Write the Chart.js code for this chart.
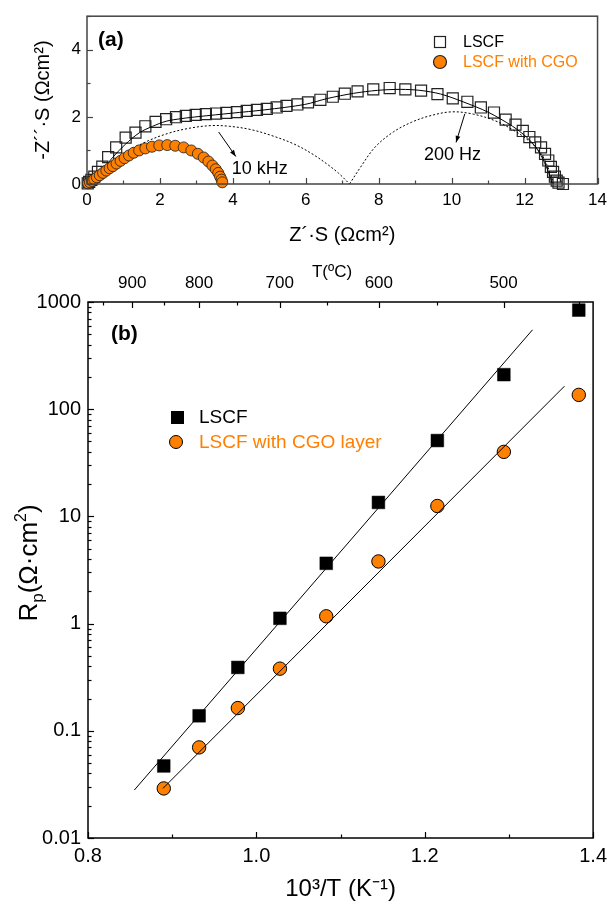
<!DOCTYPE html>
<html>
<head>
<meta charset="utf-8">
<script src="https://cdn.jsdelivr.net/npm/chart.js@4.4.0/dist/chart.umd.min.js"></script>
<style>
  html, body { margin: 0; padding: 0; background: #fff; }
  #wrap { position: relative; width: 613px; height: 908px; }
  canvas { position: absolute; left: 0; }
  #impedance { top: 0; }
  #arrhenius { top: 250px; }
</style>
</head>
<body>
<div id="wrap">
  <canvas id="impedance" width="613" height="250"></canvas>
  <canvas id="arrhenius" width="613" height="658"></canvas>
</div>
<script>
// ---- (a) impedance spectra, Ohm cm2 ----
const lscfRe = [0.02, 0.06, 0.12, 0.2, 0.3, 0.42, 0.58, 0.8, 1.06, 1.33, 1.6, 1.88, 2.17, 2.44, 2.71, 2.98, 3.26, 3.54, 3.82, 4.11, 4.38, 4.66, 4.93, 5.20, 5.47, 5.77, 6.06, 6.40, 6.74, 7.07, 7.42, 7.85, 8.30, 8.73, 9.16, 9.61, 10.03, 10.43, 10.80, 11.16, 11.48, 11.75, 11.95, 12.13, 12.29, 12.45, 12.56, 12.65, 12.72, 12.78, 12.83, 12.88, 12.93, 13.05];
const lscfIm = [0.02, 0.06, 0.12, 0.22, 0.36, 0.52, 0.80, 1.09, 1.38, 1.53, 1.72, 1.85, 1.93, 1.99, 2.03, 2.06, 2.08, 2.10, 2.12, 2.14, 2.18, 2.21, 2.24, 2.28, 2.33, 2.37, 2.43, 2.51, 2.60, 2.69, 2.76, 2.82, 2.86, 2.82, 2.78, 2.68, 2.55, 2.45, 2.28, 2.13, 1.92, 1.77, 1.58, 1.40, 1.24, 1.09, 0.90, 0.70, 0.51, 0.36, 0.22, 0.10, 0.04, 0.0];

const cgoRe = [0.03, 0.08, 0.14, 0.2, 0.27, 0.35, 0.44, 0.53, 0.62, 0.71, 0.81, 0.92, 1.03, 1.15, 1.28, 1.43, 1.6, 1.78, 1.98, 2.2, 2.42, 2.65, 2.86, 3.04, 3.2, 3.33, 3.44, 3.53, 3.6, 3.65, 3.69, 3.71];
const cgoIm = [0.02, 0.05, 0.09, 0.14, 0.2, 0.26, 0.33, 0.40, 0.47, 0.53, 0.61, 0.69, 0.77, 0.85, 0.93, 1.0, 1.06, 1.11, 1.15, 1.16, 1.14, 1.09, 1.0, 0.9, 0.79, 0.67, 0.55, 0.44, 0.33, 0.22, 0.13, 0.05];

// fitted LSCF spectrum and its two arcs (dotted)
const fitRe = [0, 0.2, 0.45, 0.71, 1.05, 1.44, 1.8, 2.17, 2.6, 3.07, 3.97, 4.88, 5.97, 6.6, 7.3, 7.96, 8.6, 9.13, 9.7, 10.31, 11.0, 11.67, 12.05, 12.31, 12.5, 12.67, 12.76];
const fitIm = [0, 0.15, 0.45, 0.80, 1.18, 1.53, 1.72, 1.87, 1.95, 2.01, 2.11, 2.21, 2.37, 2.55, 2.70, 2.79, 2.82, 2.79, 2.68, 2.45, 2.14, 1.72, 1.40, 1.09, 0.75, 0.31, 0];
const arcHfRe = [0.1, 0.4, 1.0, 1.6, 2.2, 2.8, 3.4, 3.9, 4.5, 5.1, 5.7, 6.2, 6.6, 6.9, 7.2];
const arcHfIm = [0, 0.45, 0.9, 1.25, 1.5, 1.66, 1.74, 1.72, 1.62, 1.43, 1.18, 0.88, 0.58, 0.32, 0];
const arcLfRe = [7.2, 7.5, 7.9, 8.4, 8.9, 9.4, 10.0, 10.6, 11.2, 11.7, 12.1, 12.4, 12.6, 12.8];
const arcLfIm = [0, 0.5, 1.1, 1.55, 1.84, 2.03, 2.15, 2.08, 1.88, 1.6, 1.3, 0.98, 0.6, 0];

const reTicks = [0, 2, 4, 6, 8, 10, 12, 14];
const reMinor = [1, 3, 5, 7, 9, 11, 13];
const imTicks = [0, 2, 4];
const imMinor = [1, 3, 5];

// ---- (b) Arrhenius plot ----
const invT = [0.890, 0.932, 0.978, 1.028, 1.083, 1.145, 1.215, 1.294, 1.383];
const rpLSCF = [0.047, 0.138, 0.39, 1.12, 3.65, 13.5, 51, 210, 840];
const rpCGO = [0.029, 0.070, 0.163, 0.38, 1.17, 3.8, 12.5, 40, 136];
const fitLSCFx = [0.855, 1.328];
const fitLSCFy = [0.028, 550];
const fitCGOx = [0.889, 1.366];
const fitCGOy = [0.029, 164];

const invTTicks = [0.8, 1.0, 1.2, 1.4];
const invTMinor = [0.9, 1.1, 1.3];
const rpTicks = [0.01, 0.1, 1, 10, 100, 1000];
const topTemps = [900, 800, 700, 600, 500];
const topTempsMinor = [950, 850, 750, 650, 550, 450];

const ORANGE = '#FF8000';
const toXY = (xs, ys) => xs.map((x, i) => ({x: x, y: ys[i]}));
const toInvT = t => 1000 / (t + 273);

Chart.defaults.font.family = '"Liberation Sans", Arial, sans-serif';
Chart.defaults.color = '#000';

// frame round the plot area + inward tick marks
const framePlugin = {
  id: 'frame',
  afterDatasetsDraw(chart, args, opts) {
    const ctx = chart.ctx, a = chart.chartArea;
    ctx.save();
    ctx.strokeStyle = opts.color;
    ctx.lineWidth = opts.width;
    ctx.strokeRect(a.left, a.top, a.right - a.left, a.bottom - a.top);
    ctx.lineWidth = 1.2;
    opts.ticks.forEach(t => {
      const s = chart.scales[t.scale];
      [[t.major, 6], [t.minor, 3.5]].forEach(([vals, len]) => {
        vals.forEach(v => {
          const p = Math.round(s.getPixelForValue(v)) + 0.5;
          ctx.beginPath();
          if (t.side === 'bottom') { ctx.moveTo(p, a.bottom); ctx.lineTo(p, a.bottom - len); }
          else if (t.side === 'top') { ctx.moveTo(p, a.top); ctx.lineTo(p, a.top + len); }
          else { ctx.moveTo(a.left, p); ctx.lineTo(a.left + len, p); }
          ctx.stroke();
        });
      });
    });
    ctx.restore();
  }
};

function arrow(ctx, x1, y1, x2, y2) {
  ctx.beginPath();
  ctx.moveTo(x1, y1);
  ctx.lineTo(x2, y2);
  ctx.stroke();
  const ang = Math.atan2(y2 - y1, x2 - x1);
  ctx.beginPath();
  ctx.moveTo(x2, y2);
  ctx.lineTo(x2 - 7 * Math.cos(ang - 0.35), y2 - 7 * Math.sin(ang - 0.35));
  ctx.lineTo(x2 - 7 * Math.cos(ang + 0.35), y2 - 7 * Math.sin(ang + 0.35));
  ctx.closePath();
  ctx.fill();
}

const notesA = {
  id: 'notesA',
  afterDraw(chart) {
    const ctx = chart.ctx, x = chart.scales.x, y = chart.scales.y;
    ctx.save();
    ctx.fillStyle = '#000';
    ctx.strokeStyle = '#000';
    ctx.lineWidth = 1;
    ctx.textBaseline = 'middle';
    ctx.font = 'bold 21px "Liberation Sans", Arial, sans-serif';
    ctx.fillText('(a)', 98, 40);
    ctx.font = '18px "Liberation Sans", Arial, sans-serif';
    ctx.fillText('10 kHz', x.getPixelForValue(3.97), y.getPixelForValue(0.45));
    ctx.fillText('200 Hz', x.getPixelForValue(9.24), y.getPixelForValue(0.86));
    arrow(ctx, x.getPixelForValue(3.61), y.getPixelForValue(1.55), x.getPixelForValue(4.08), y.getPixelForValue(0.82));
    arrow(ctx, x.getPixelForValue(10.36), y.getPixelForValue(2.09), x.getPixelForValue(10.12), y.getPixelForValue(1.24));
    // legend
    ctx.font = '16px "Liberation Sans", Arial, sans-serif';
    ctx.lineWidth = 1.2;
    ctx.strokeStyle = '#222';
    ctx.strokeRect(434.5, 36.5, 11, 11);
    ctx.fillText('LSCF', 463, 43);
    ctx.beginPath();
    ctx.arc(440, 62, 6.5, 0, Math.PI * 2);
    ctx.fillStyle = ORANGE;
    ctx.fill();
    ctx.stroke();
    ctx.fillText('LSCF with CGO', 463, 63);
    ctx.restore();
  }
};

const notesB = {
  id: 'notesB',
  afterDraw(chart) {
    const ctx = chart.ctx;
    ctx.save();
    ctx.fillStyle = '#000';
    ctx.textBaseline = 'middle';
    ctx.font = 'bold 21px "Liberation Sans", Arial, sans-serif';
    ctx.fillText('(b)', 111, 84);
    ctx.font = '17px "Liberation Sans", Arial, sans-serif';
    ctx.textAlign = 'center';
    ctx.fillText('T(ºC)', 332, 22);
    ctx.textAlign = 'left';
    // legend
    ctx.font = '19px "Liberation Sans", Arial, sans-serif';
    ctx.fillRect(171, 161, 13, 13);
    ctx.fillText('LSCF', 199, 168);
    ctx.beginPath();
    ctx.arc(176, 192, 6.5, 0, Math.PI * 2);
    ctx.fillStyle = ORANGE;
    ctx.fill();
    ctx.strokeStyle = '#000';
    ctx.lineWidth = 1;
    ctx.stroke();
    ctx.fillText('LSCF with CGO layer', 199, 193);
    // y title with subscript / superscript
    ctx.fillStyle = '#000';
    ctx.translate(37, 313);
    ctx.rotate(-Math.PI / 2);
    ctx.textBaseline = 'alphabetic';
    const parts = [
      {t: 'R', f: 26, dy: 0},
      {t: 'p', f: 17, dy: 6},
      {t: '(Ω·cm', f: 26, dy: 0},
      {t: '2', f: 16, dy: -11},
      {t: ')', f: 26, dy: 0}
    ];
    let total = 0;
    parts.forEach(p => {
      ctx.font = p.f + 'px "Liberation Sans", Arial, sans-serif';
      p.w = ctx.measureText(p.t).width;
      total += p.w;
    });
    let cx = -total / 2;
    parts.forEach(p => {
      ctx.font = p.f + 'px "Liberation Sans", Arial, sans-serif';
      ctx.fillText(p.t, cx, p.dy);
      cx += p.w;
    });
    ctx.restore();
  }
};

const hideGrid = {display: false, drawTicks: false};
const noBorder = {display: false};

new Chart(document.getElementById('impedance'), {
  type: 'scatter',
  data: {
    datasets: [
      {label: 'LSCF with CGO', data: toXY(cgoRe, cgoIm), pointStyle: 'circle', pointRadius: 5.5,
       backgroundColor: ORANGE, borderColor: '#1a1a1a', borderWidth: 0.8, order: 0, clip: false},
      {label: 'fit', data: toXY(fitRe, fitIm), showLine: true, pointRadius: 0, borderColor: '#000',
       borderWidth: 1, tension: 0.3, order: 1},
      {label: 'arc HF', data: toXY(arcHfRe, arcHfIm), showLine: true, pointRadius: 0, borderColor: '#000',
       borderWidth: 1, borderDash: [2, 2], tension: 0.35, order: 1},
      {label: 'arc LF', data: toXY(arcLfRe, arcLfIm), showLine: true, pointRadius: 0, borderColor: '#000',
       borderWidth: 1, borderDash: [2, 2], tension: 0.35, order: 1},
      {label: 'LSCF', data: toXY(lscfRe, lscfIm), pointStyle: 'rect', pointRadius: 7.8,
       backgroundColor: 'rgba(255,255,255,0)', borderColor: '#222', borderWidth: 1.2, order: 2, clip: false}
    ]
  },
  options: {
    responsive: false,
    animation: false,
    events: [],
    layout: {padding: {left: 0, right: 11, top: 13, bottom: 0}},
    plugins: {
      legend: {display: false},
      tooltip: {enabled: false},
      frame: {color: '#444', width: 1.5, ticks: [
        {scale: 'x', side: 'bottom', major: reTicks, minor: reMinor},
        {scale: 'y', side: 'left', major: imTicks, minor: imMinor}
      ]}
    },
    scales: {
      x: {
        type: 'linear', min: 0, max: 14,
        afterBuildTicks: s => { s.ticks = reTicks.map(v => ({value: v})); },
        afterFit: s => { s.height = 66; },
        ticks: {font: {size: 17}, padding: 6, maxRotation: 0, autoSkip: false},
        grid: hideGrid, border: noBorder,
        title: {display: true, text: 'Z´·S (Ωcm²)', font: {size: 20}, padding: {top: 0, bottom: 3}}
      },
      y: {
        type: 'linear', min: 0, max: 5,
        afterBuildTicks: s => { s.ticks = imTicks.map(v => ({value: v})); },
        afterFit: s => { s.width = 87; },
        ticks: {font: {size: 17}, padding: 6},
        grid: hideGrid, border: noBorder,
        title: {display: true, text: '-Z´´·S (Ωcm²)', font: {size: 20}, padding: {top: 31, bottom: 0}}
      }
    }
  },
  plugins: [framePlugin, notesA]
});

new Chart(document.getElementById('arrhenius'), {
  type: 'scatter',
  data: {
    datasets: [
      {label: 'fit LSCF', data: toXY(fitLSCFx, fitLSCFy), showLine: true, pointRadius: 0,
       borderColor: '#000', borderWidth: 1, order: 0},
      {label: 'fit CGO', data: toXY(fitCGOx, fitCGOy), showLine: true, pointRadius: 0,
       borderColor: '#000', borderWidth: 1, order: 0},
      {label: 'LSCF with CGO layer', data: toXY(invT, rpCGO), pointStyle: 'circle', pointRadius: 6.7,
       backgroundColor: ORANGE, borderColor: '#000', borderWidth: 1, order: 1, clip: false},
      {label: 'LSCF', data: toXY(invT, rpLSCF), pointStyle: 'rect', pointRadius: 9,
       backgroundColor: '#000', borderColor: '#000', borderWidth: 0.5, order: 2, clip: false}
    ]
  },
  options: {
    responsive: false,
    animation: false,
    events: [],
    layout: {padding: {left: 0, right: 15, top: 0, bottom: 0}},
    plugins: {
      legend: {display: false},
      tooltip: {enabled: false},
      frame: {color: '#000', width: 1.5, ticks: [
        {scale: 'x', side: 'bottom', major: invTTicks, minor: invTMinor},
        {scale: 'xTop', side: 'top', major: topTemps.map(toInvT), minor: topTempsMinor.map(toInvT)},
        {scale: 'y', side: 'left', major: rpTicks,
         minor: [0.02, 0.03, 0.04, 0.05, 0.06, 0.07, 0.08, 0.09, 0.2, 0.3, 0.4, 0.5, 0.6, 0.7, 0.8, 0.9,
                 2, 3, 4, 5, 6, 7, 8, 9, 20, 30, 40, 50, 60, 70, 80, 90, 200, 300, 400, 500, 600, 700, 800, 900]}
      ]}
    },
    scales: {
      x: {
        type: 'linear', position: 'bottom', min: 0.8, max: 1.4,
        afterBuildTicks: s => { s.ticks = invTTicks.map(v => ({value: v})); },
        afterFit: s => { s.height = 70; },
        ticks: {callback: v => v.toFixed(1), font: {size: 20}, padding: 6, maxRotation: 0, autoSkip: false},
        grid: hideGrid, border: noBorder,
        title: {display: true, text: '10³/T (K⁻¹)', font: {size: 24}, padding: {top: 0, bottom: 4}}
      },
      xTop: {
        type: 'linear', position: 'top', axis: 'x', min: 0.8, max: 1.4,
        afterBuildTicks: s => { s.ticks = topTemps.map(t => ({value: toInvT(t)})); },
        afterFit: s => { s.height = 52; },
        ticks: {callback: (v, i) => String(topTemps[i]), font: {size: 17}, padding: 8, maxRotation: 0, autoSkip: false},
        grid: hideGrid, border: noBorder
      },
      y: {
        type: 'logarithmic', min: 0.01, max: 1000,
        afterBuildTicks: s => { s.ticks = rpTicks.map(v => ({value: v})); },
        afterFit: s => { s.width = 88; },
        ticks: {callback: v => String(v), font: {size: 20}, padding: 7, autoSkip: false},
        grid: hideGrid, border: noBorder
      }
    }
  },
  plugins: [framePlugin, notesB]
});
</script>
</body>
</html>
